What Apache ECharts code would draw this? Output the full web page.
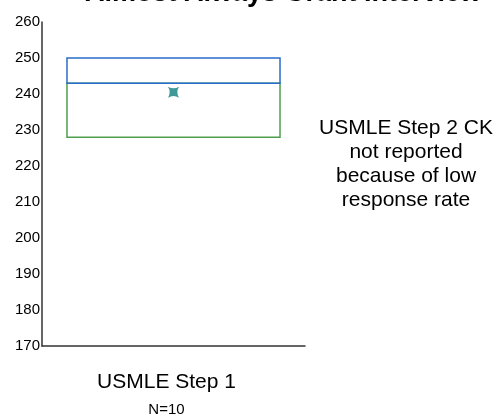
<!DOCTYPE html>
<html>
<head>
<meta charset="utf-8">
<script src="https://cdn.jsdelivr.net/npm/echarts@6/dist/echarts.min.js"></script>
<style>
  html, body { margin: 0; padding: 0; background: #fff; }
  #chart { width: 500px; height: 416px; }
</style>
</head>
<body>
<div id="chart"></div>
<script>
// box plot stats
const categories = ['USMLE Step 1'];
const counts = ['N=10'];
const q1Values = [228];
const medianValues = [243];
const q3Values = [250];
const meanValues = [240.5];
const yTicks = { min: 170, max: 260, step: 10 };
const titleText = 'Almost Always Grant Interview';
const noteText = 'USMLE Step 2 CK\nnot reported\nbecause of low\nresponse rate';

let chart = echarts.init(document.getElementById('chart'));

let boxData = categories.map(function (c, i) {
  return [i, q1Values[i], medianValues[i], q3Values[i]];
});
let meanData = categories.map(function (c, i) {
  return [c, meanValues[i]];
});

chart.setOption({
  animation: false,
  textStyle: { fontFamily: 'Liberation Sans, Arial, sans-serif' },
  title: {
    text: titleText,
    left: 80,
    top: -25,
    textStyle: { fontSize: 27, fontWeight: 'bold', color: '#000' }
  },
  graphic: [{
    type: 'text',
    x: 406,
    y: 116,
    style: {
      text: noteText,
      fontSize: 21,
      lineHeight: 24,
      align: 'center',
      verticalAlign: 'top',
      fill: '#000',
      fontFamily: 'Liberation Sans, Arial, sans-serif'
    }
  }],
  grid: { left: 42, right: 195, top: 22, bottom: 70, outerBoundsMode: 'none' },
  xAxis: {
    type: 'category',
    data: categories,
    axisTick: { show: false },
    axisLine: { lineStyle: { color: '#333', width: 1.5 } },
    axisLabel: {
      margin: 22,
      formatter: function (v, i) {
        return '{a|' + v + '}\n{b|' + counts[i] + '}';
      },
      rich: {
        a: { fontSize: 21, lineHeight: 28, color: '#000', padding: [0, 14, 0, 0] },
        b: { fontSize: 15, lineHeight: 28, color: '#000', padding: [0, 14, 0, 0] }
      }
    }
  },
  yAxis: {
    type: 'value',
    min: yTicks.min,
    max: yTicks.max,
    interval: yTicks.step,
    splitLine: { show: false },
    axisTick: { show: false },
    axisLine: { show: true, lineStyle: { color: '#333', width: 1.5 } },
    axisLabel: { fontSize: 15, color: '#000', margin: 2 }
  },
  series: [{
    type: 'custom',
    data: boxData,
    encode: { x: 0, y: [1, 2, 3] },
    renderItem: function (params, api) {
      let x = api.value(0);
      let pLow = api.coord([x, api.value(1)]);
      let pMid = api.coord([x, api.value(2)]);
      let pHigh = api.coord([x, api.value(3)]);
      let w = api.size([1, 0])[0] * 0.81;
      return {
        type: 'group',
        children: [{
          type: 'rect',
          shape: { x: pLow[0] - w / 2, y: pMid[1], width: w, height: pLow[1] - pMid[1] },
          style: { fill: 'none', stroke: '#4f9f4f', lineWidth: 1.5 }
        }, {
          type: 'rect',
          shape: { x: pHigh[0] - w / 2, y: pHigh[1], width: w, height: pMid[1] - pHigh[1] },
          style: { fill: 'none', stroke: '#2a6ccc', lineWidth: 1.5 }
        }]
      };
    }
  }, {
    type: 'scatter',
    data: meanData,
    symbol: 'path://M0,0 Q5,3 10,0 Q7,5 10,10 Q5,7 0,10 Q3,5 0,0 Z',
    symbolSize: 11,
    itemStyle: { color: '#0f7f80' },
    z: 5
  }]
});
</script>
</body>
</html>
